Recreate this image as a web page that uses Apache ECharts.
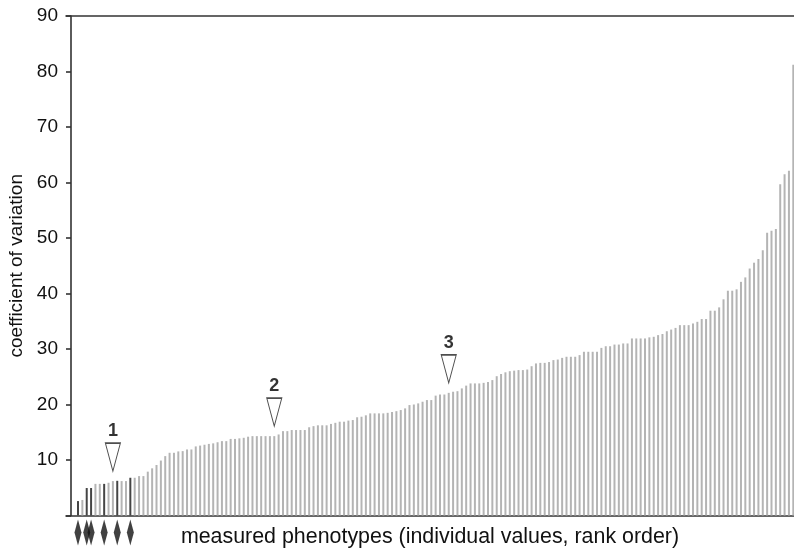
<!DOCTYPE html>
<html>
<head>
<meta charset="utf-8">
<script src="https://cdn.jsdelivr.net/npm/echarts@6/dist/echarts.min.js"></script>
<style>
  html, body { margin: 0; padding: 0; background: #fff; }
  #chart { width: 794px; height: 549px; }
</style>
</head>
<body>
<div id="chart"></div>
<script>
// coefficient of variation per measured phenotype, in rank order
var cvValues = [
  2.6, 2.8, 4.95, 4.95, 5.7, 5.7, 5.7, 5.9, 6.2, 6.25,
  6.2, 6.2, 6.8, 6.8, 7.1, 7.1, 7.9, 8.5, 9.1, 9.9,
  10.7, 11.3, 11.3, 11.55, 11.6, 11.9, 11.9, 12.45, 12.6, 12.75,
  12.9, 13.0, 13.2, 13.4, 13.4, 13.8, 13.8, 13.9, 14.0, 14.2,
  14.3, 14.3, 14.3, 14.3, 14.3, 14.3, 14.6, 15.2, 15.2, 15.4,
  15.4, 15.4, 15.4, 15.9, 16.1, 16.25, 16.25, 16.25, 16.5, 16.7,
  16.9, 16.9, 17.1, 17.2, 17.7, 17.8, 18.05, 18.4, 18.4, 18.4,
  18.4, 18.5, 18.65, 18.8, 19.0, 19.3, 19.9, 20.0, 20.2, 20.5,
  20.8, 20.8, 21.6, 21.8, 21.8, 22.1, 22.3, 22.4, 22.9, 23.4,
  23.8, 23.8, 23.8, 23.9, 24.05, 24.4, 25.1, 25.5, 25.8, 26.0,
  26.1, 26.2, 26.2, 26.3, 26.9, 27.4, 27.5, 27.5, 27.65, 28.0,
  28.1, 28.4, 28.6, 28.6, 28.6, 28.9, 29.5, 29.5, 29.5, 29.5,
  30.2, 30.5, 30.5, 30.8, 30.8, 31.0, 31.0, 31.9, 31.9, 31.9,
  31.9, 32.1, 32.2, 32.5, 32.7, 33.2, 33.5, 33.8, 34.3, 34.3,
  34.3, 34.6, 34.9, 35.4, 35.4, 36.9, 36.9, 37.5, 38.95, 40.5,
  40.5, 40.75, 42.1, 42.9, 44.5, 45.55, 46.2, 47.8, 50.95, 51.3,
  51.6, 59.7, 61.5, 62.1, 81.2
];

// ranks of the phenotypes flagged with black arrows (dark bars)
var flaggedRanks = [1, 3, 4, 7, 10, 13];

// ranks pointed at by the numbered open triangles
var pointerRanks = [9, 46, 86];
var pointerLabels = ['1', '2', '3'];

var yTicks = [0, 10, 20, 30, 40, 50, 60, 70, 80, 90];

var FONT = '"Liberation Sans", Arial, Helvetica, sans-serif';

var myChart = echarts.init(document.getElementById('chart'), null, { renderer: 'canvas' });

var barData = cvValues.map(function (v, i) {
  var rank = i + 1;
  var flagged = flaggedRanks.indexOf(rank) >= 0;
  return {
    value: [rank, v],
    itemStyle: { color: flagged ? '#454545' : '#b4b4b4' }
  };
});

var pointerData = pointerRanks.map(function (r) { return [r, cvValues[r - 1]]; });
var flagData = flaggedRanks.map(function (r) { return [r, 0]; });

var option = {
  animation: false,
  backgroundColor: '#fff',
  textStyle: { fontFamily: FONT },
  grid: { left: 66, right: 0, top: 16, bottom: 33.5, containLabel: false, outerBoundsMode: 'none' },
  xAxis: [
    {
      type: 'value',
      min: -1.75,
      max: 165.16,
      name: 'measured phenotypes (individual values, rank order)',
      nameLocation: 'middle',
      nameGap: 11,
      nameTextStyle: { fontSize: 21.4, color: '#111', fontFamily: FONT },
      axisLine: { show: true, onZero: false, lineStyle: { color: '#333', width: 1.6 } },
      axisTick: { show: false },
      axisLabel: { show: false },
      splitLine: { show: false }
    },
    {
      type: 'value',
      position: 'top',
      min: -1.75,
      max: 165.16,
      axisLine: { show: true, onZero: false, lineStyle: { color: '#333', width: 1.6 } },
      axisTick: { show: false },
      axisLabel: { show: false },
      splitLine: { show: false }
    }
  ],
  yAxis: {
    type: 'value',
    min: yTicks[0],
    max: yTicks[yTicks.length - 1],
    interval: 10,
    offset: -5,
    name: 'coefficient of variation',
    nameLocation: 'middle',
    nameGap: 45,
    nameTextStyle: { fontSize: 19, color: '#111', fontFamily: FONT },
    axisLine: { show: true, onZero: false, lineStyle: { color: '#333', width: 1.6 } },
    axisTick: { show: true, length: 5, lineStyle: { color: '#333', width: 1.6 } },
    axisLabel: {
      fontSize: 19, color: '#111', margin: 13, fontFamily: FONT,
      formatter: function (v) { return v === 0 ? '' : String(v); }
    },
    splitLine: { show: false }
  },
  series: [
    {
      name: 'CV',
      type: 'bar',
      barWidth: 2,
      data: barData
    },
    {
      name: 'pointers',
      type: 'scatter',
      clip: false,
      z: 5,
      symbol: 'path://M0 0L15 0L7.5 28Z',
      symbolKeepAspect: false,
      symbolSize: [15, 28],
      symbolOffset: [0, -24],
      itemStyle: { color: '#fff', borderColor: '#222', borderWidth: 1.2 },
      label: {
        show: true,
        position: 'top',
        distance: 2,
        fontSize: 18,
        fontWeight: 'bold',
        color: '#000',
        fontFamily: FONT,
        formatter: function (p) { return pointerLabels[p.dataIndex]; }
      },
      data: pointerData
    },
    {
      name: 'flags',
      type: 'scatter',
      clip: false,
      z: 5,
      symbol: 'diamond',
      symbolKeepAspect: false,
      symbolSize: [7, 26],
      symbolOffset: [0, 17],
      itemStyle: { color: '#111' },
      data: flagData
    }
  ]
};
myChart.setOption(option);
</script>
</body>
</html>
